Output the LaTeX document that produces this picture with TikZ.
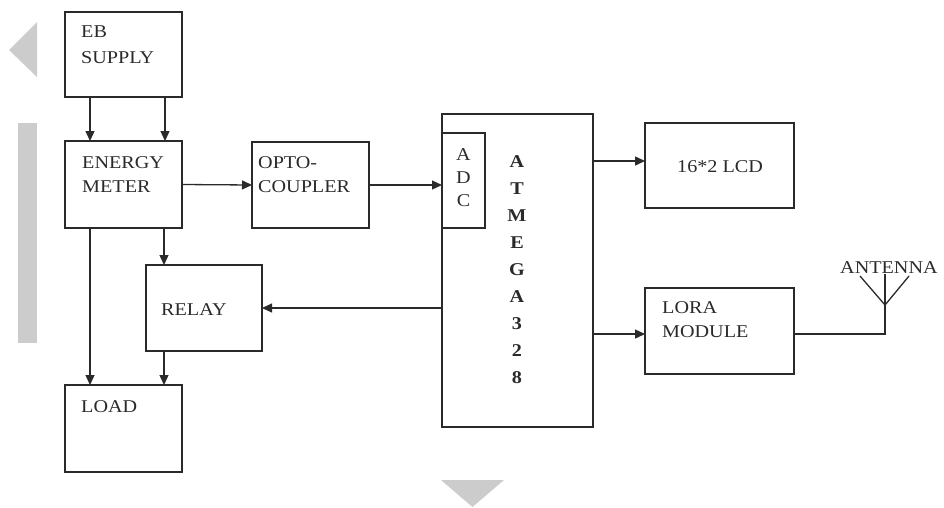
\documentclass[tikz,border=0pt]{standalone}
\usepackage{fontspec}
\setmainfont{Liberation Serif}[FakeStretch=1.12]
\usetikzlibrary{arrows.meta}
\definecolor{ink}{HTML}{2A2A2A}
\definecolor{shade}{HTML}{CCCCCC}
\tikzset{
  blk/.style={draw=ink, line width=1.4pt, minimum width=#1, inner sep=0pt, outer sep=0pt},
  blk/.default=117pt,
  lbl/.style={anchor=base west, inner sep=0pt, text=ink, font=\fontsize{18}{24}\selectfont},
  lblc/.style={anchor=base, inner sep=0pt, text=ink, font=\fontsize{18}{24}\selectfont},
  arr/.style={draw=ink, line width=1.3pt, -{Triangle[length=10pt,width=9pt]}},
  wire/.style={draw=ink, line width=1.3pt},
  ghost/.style={fill=shade, draw=none}
}
\begin{document}
\begin{tikzpicture}[x=1pt, y=-1pt]
\useasboundingbox (0,0) rectangle (944,507);
% gray artefacts
\fill[ghost] (37,22) -- (37,77) -- (9,50) -- cycle;
\fill[ghost] (18,123) rectangle (37,343);
\fill[ghost] (441,480) -- (504,480) -- (472.5,507) -- cycle;

% blocks
\node[blk, minimum height=85pt] (eb) at (123.5,54.5) {};
\node[blk, minimum height=87pt] (em) at (123.5,184.5) {};
\node[blk, minimum height=86pt] (opto) at (310.5,185) {};
\node[blk=151pt, minimum height=313pt] (atm) at (517.5,270.5) {};
\node[blk=43pt, minimum height=95pt] (adc) at (463.5,180.5) {};
\node[blk=149pt, minimum height=85pt] (lcd) at (719.5,165.5) {};
\node[blk=149pt, minimum height=86pt] (lora) at (719.5,331) {};
\node[blk=116pt, minimum height=86pt] (relay) at (204,308) {};
\node[blk, minimum height=87pt] (load) at (123.5,428.5) {};

% labels
\node[lbl] (t-eb1) at (81,37) {EB};
\node[lbl] (t-eb2) at (81,63) {SUPPLY};
\node[lbl] (t-em1) at (82,168) {ENERGY};
\node[lbl] (t-em2) at (82,192) {METER};
\node[lbl] (t-op1) at (258,168) {OPTO-};
\node[lbl] (t-op2) at (258,192) {COUPLER};
\node[lbl] (t-rel) at (161,315) {RELAY};
\node[lbl] (t-load) at (81,412) {LOAD};
\node[lbl] (t-lcd) at (677,172) {16*2 LCD};
\node[lbl] (t-lo1) at (662,313) {LORA};
\node[lbl] (t-lo2) at (662,337) {MODULE};
\node[lbl] (t-ant) at (840,273) {ANTENNA};
\foreach \c [count=\i] in {A,D,C}
  \node[lblc] (t-adc\i) at (463.5,{160+23*(\i-1)}) {\c};
\foreach \c [count=\i] in {A,T,M,E,G,A,3,2,8}
  \node[lblc, font=\fontsize{18}{24}\selectfont\bfseries] (t-atm\i) at (517,{167+27*(\i-1)}) {\c};

% connectors
\draw[arr] ([xshift=25pt]eb.south west) -- ([xshift=25pt]em.north west);
\draw[arr] ([xshift=100pt]eb.south west) -- ([xshift=100pt]em.north west);
\draw[arr] (em.east) -- (opto.west);
\draw[arr] (opto.east) -- (opto.east -| adc.west);
\draw[arr] ([yshift=4.5pt]lcd.west -| atm.east) -- ([yshift=4.5pt]lcd.west);
\draw[arr] ([yshift=-3pt]lora.west -| atm.east) -- ([yshift=-3pt]lora.west);
\draw[arr] (relay.east -| atm.west) -- (relay.east);
\draw[arr] ([xshift=99pt]em.south west) -- ([xshift=18pt]relay.north west);
\draw[arr] ([xshift=25pt]em.south west) -- ([xshift=25pt]load.north west);
\draw[arr] ([xshift=18pt]relay.south west) -- ([xshift=99pt]load.north west);

% antenna
\coordinate (antfoot) at (885,305);
\coordinate (anttop) at (885,274);
\coordinate (antl) at (860,276);
\coordinate (antr) at (909,276);
\draw[wire] ([yshift=-3pt]lora.east) -| (antfoot);
\draw[wire] (antfoot) -- (anttop);
\draw[wire] (antfoot) -- (antl);
\draw[wire] (antfoot) -- (antr);
\end{tikzpicture}
\end{document}
